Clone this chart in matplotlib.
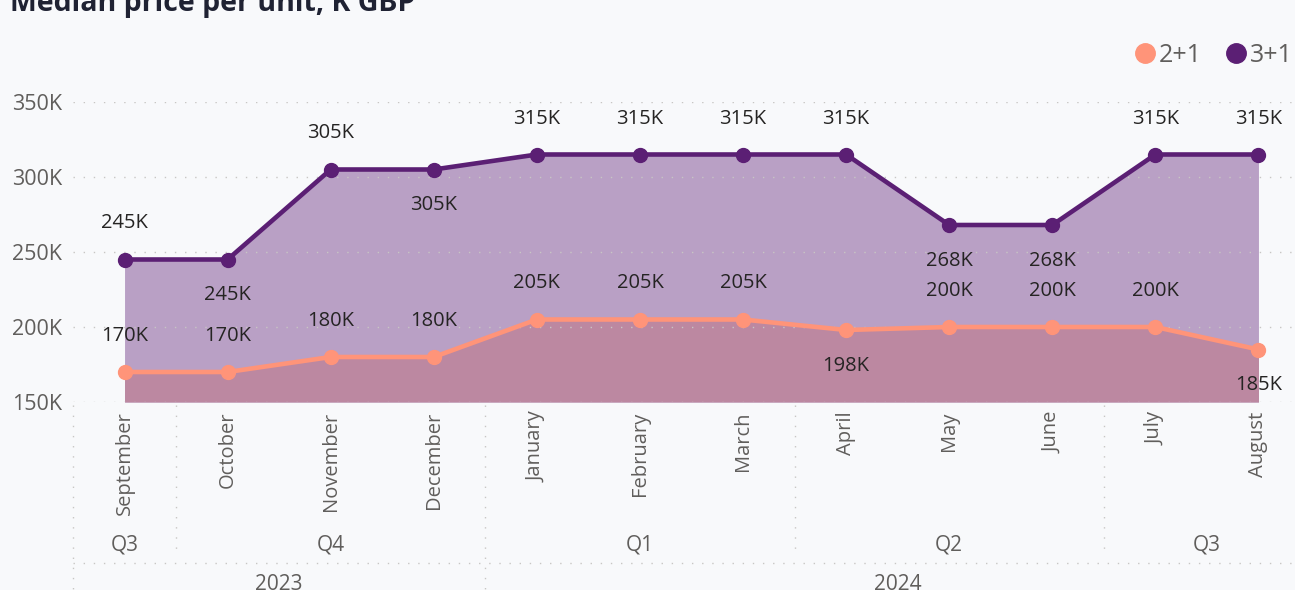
import matplotlib
matplotlib.use("Agg")
import matplotlib.pyplot as plt
import matplotlib.transforms as mtransforms
from matplotlib.lines import Line2D

# ── data ──────────────────────────────────────────────────────────────
MONTHS = ["September", "October", "November", "December", "January", "February",
          "March", "April", "May", "June", "July", "August"]
PRICE_2_1 = [170, 170, 180, 180, 205, 205, 205, 198, 200, 200, 200, 185]   # K GBP
PRICE_3_1 = [245, 245, 305, 305, 315, 315, 315, 315, 268, 268, 315, 315]   # K GBP
# label side for each point: +1 above, -1 below
SIDE_2_1 = [1, 1, 1, 1, 1, 1, 1, -1, 1, 1, 1, -1]
SIDE_3_1 = [1, -1, 1, -1, 1, 1, 1, 1, -1, -1, 1, 1]

QUARTERS = ["Q3", "Q4", "Q1", "Q2", "Q3"]
QUARTER_SPANS = [(0, 0), (1, 3), (4, 6), (7, 9), (10, 11)]
YEARS = ["2023", "2024"]
YEAR_SPANS = [(0, 3), (4, 11)]

# ── style ─────────────────────────────────────────────────────────────
plt.rcParams["font.family"] = ["Open Sans", "DejaVu Sans"]
BG = "#F8F9FB"
C_21 = "#FF9479"
C_31 = "#5B1F74"
FILL_31 = "#B9A0C5"
FILL_21 = "#BC88A1"
GRID = "#C8C6C4"
TICK_C = "#605E5C"
LABEL_C = "#252423"
DOTS = (0, (1, 6.3))

W, H = 1295, 590
fig = plt.figure(figsize=(W / 100, H / 100), dpi=100, facecolor=BG)
ax = fig.add_axes([73 / W, (H - 402) / H, (1310 - 73) / W, 300 / H], facecolor=BG)

x = list(range(len(MONTHS)))
ax.fill_between(x, PRICE_3_1, 150, color=FILL_31, lw=0, zorder=1)
ax.fill_between(x, PRICE_2_1, 150, color=FILL_21, lw=0, zorder=1.1)

for yv in [150, 200, 250, 300, 350]:
    ax.axhline(yv, color=GRID, lw=1.0, ls=DOTS, zorder=1.5)

ax.plot(x, PRICE_3_1, color=C_31, lw=3.3, marker="o", ms=10, zorder=3)
ax.plot(x, PRICE_2_1, color=C_21, lw=3.3, marker="o", ms=10, zorder=3)

for vals, sides in [(PRICE_3_1, SIDE_3_1), (PRICE_2_1, SIDE_2_1)]:
    for xi, v, s in zip(x, vals, sides):
        ax.annotate(f"{v}K", (xi, v), xytext=(0, 36 * s), textcoords="offset pixels",
                    ha="center", va="center", fontsize=14.5, color=LABEL_C,
                    annotation_clip=False, zorder=4)

ax.set_xlim(-0.5, 11.5)
ax.set_ylim(150, 350)
ax.set_yticks([150, 200, 250, 300, 350], ["150K", "200K", "250K", "300K", "350K"])
ax.set_xticks(x, MONTHS, rotation=90)
ax.tick_params(axis="y", length=0, pad=8, labelsize=15.5, labelcolor=TICK_C)
ax.tick_params(axis="x", length=0, pad=7, labelsize=14.5, labelcolor=TICK_C)
for sp in ax.spines.values():
    sp.set_visible(False)

# hierarchical category axis below the months
tr = mtransforms.blended_transform_factory(ax.transData, ax.transAxes)
px = 1 / 300  # one pixel in axes-height units
for i, (a, b) in enumerate(QUARTER_SPANS):
    ax.text((a + b) / 2, -143 * px, QUARTERS[i], transform=tr, ha="center", va="center",
            fontsize=15, color=TICK_C)
for i, (a, b) in enumerate(YEAR_SPANS):
    ax.text((a + b) / 2, -183 * px, YEARS[i], transform=tr, ha="center", va="center",
            fontsize=15, color=TICK_C)

year_edges = [-0.5] + [b + 0.5 for a, b in YEAR_SPANS[:-1]]
quarter_edges = [b + 0.5 for a, b in QUARTER_SPANS[:-1] if b + 0.5 not in year_edges]
for xe in year_edges:
    ax.add_line(Line2D([xe, xe], [-3 * px, -200 * px], transform=tr, color=GRID,
                       lw=1.0, ls=DOTS, clip_on=False))
for xe in quarter_edges:
    ax.add_line(Line2D([xe, xe], [-3 * px, -151 * px], transform=tr, color=GRID,
                       lw=1.0, ls=DOTS, clip_on=False))
ax.add_line(Line2D([-0.5, 11.5], [-161 * px, -161 * px], transform=tr, color=GRID,
                   lw=1.0, ls=DOTS, clip_on=False))

# legend
handles = [Line2D([], [], ls="none", marker="o", ms=14, color=C_21),
           Line2D([], [], ls="none", marker="o", ms=14, color=C_31)]
fig.legend(handles, ["2+1", "3+1"], loc="center right", bbox_to_anchor=(1.0, (H - 55) / H),
           ncol=2, frameon=False, fontsize=18, handletextpad=0.1, columnspacing=0.9,
           labelcolor=TICK_C, borderaxespad=0.0, handlelength=0.9, borderpad=0.1)

fig.text(10 / W, (H - 11) / H, "Median price per unit, K GBP", ha="left", va="baseline",
         fontsize=20.5, fontweight="bold", color="#1F2233")

fig.savefig("out.png", dpi=100, facecolor=BG)
